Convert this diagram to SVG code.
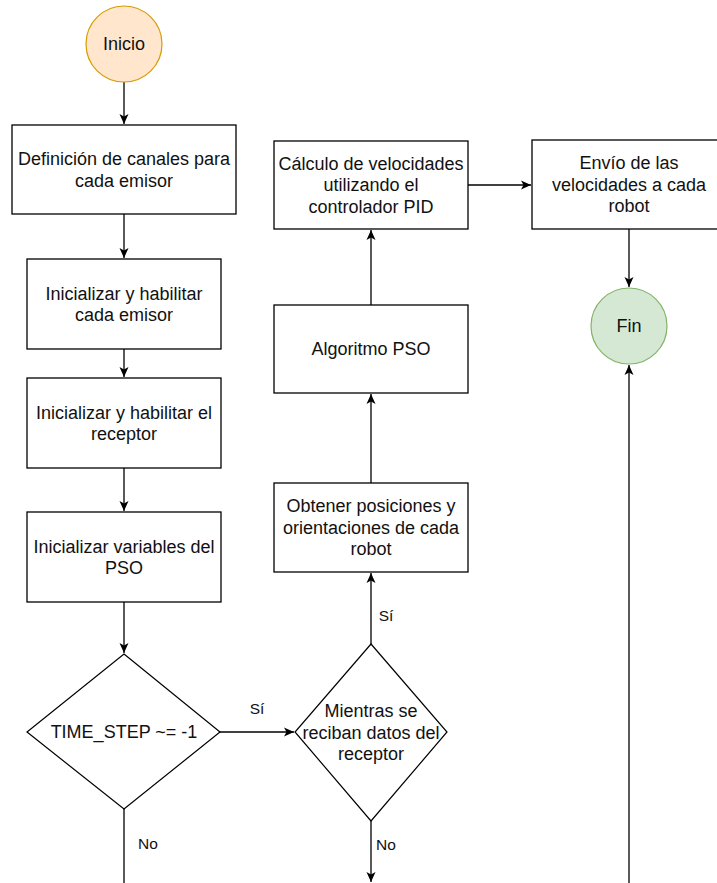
<svg xmlns="http://www.w3.org/2000/svg" width="717" height="883" viewBox="0 0 717 883">
<defs>
<style>
.box{fill:#ffffff;stroke:#000;stroke-width:1.3}
.dia{fill:#ffffff;stroke:#000;stroke-width:1.2}
.t{font-family:"Liberation Sans",Arial,Helvetica,sans-serif;font-size:18px;fill:#111;text-anchor:middle}
.lbl{font-family:"Liberation Sans",Arial,Helvetica,sans-serif;font-size:15.5px;fill:#111;text-anchor:middle}
.c{fill:none;stroke:#000;stroke-width:1.3}
</style>
<marker id="ah" markerUnits="userSpaceOnUse" markerWidth="12" markerHeight="12" refX="10" refY="5" orient="auto">
<path d="M0,0.5 L10,5 L0,9.5 L2.5,5 Z" fill="#000"/>
</marker>
</defs>
<rect width="717" height="883" fill="#ffffff"/>

<g id="connectors">
<line class="c" x1="124" y1="82" x2="124" y2="124" marker-end="url(#ah)"/>
<line class="c" x1="124" y1="214" x2="124" y2="258" marker-end="url(#ah)"/>
<line class="c" x1="124" y1="349" x2="124" y2="377" marker-end="url(#ah)"/>
<line class="c" x1="124" y1="468" x2="124" y2="511" marker-end="url(#ah)"/>
<line class="c" x1="124" y1="602" x2="124" y2="653" marker-end="url(#ah)"/>
<line class="c" x1="220" y1="732" x2="294" y2="732" marker-end="url(#ah)"/>
<line class="c" x1="124" y1="809" x2="124" y2="883"/>
<line class="c" x1="371" y1="821" x2="371" y2="882" marker-end="url(#ah)"/>
<line class="c" x1="371" y1="644" x2="371" y2="573" marker-end="url(#ah)"/>
<line class="c" x1="371" y1="483" x2="371" y2="394" marker-end="url(#ah)"/>
<line class="c" x1="371" y1="305" x2="371" y2="230" marker-end="url(#ah)"/>
<line class="c" x1="468" y1="185" x2="531" y2="185" marker-end="url(#ah)"/>
<line class="c" x1="629" y1="229" x2="629" y2="287" marker-end="url(#ah)"/>
<line class="c" x1="629" y1="883" x2="629" y2="365" marker-end="url(#ah)"/>
<text class="lbl" x="257" y="714">Sí</text>
<text class="lbl" x="148" y="849">No</text>
<text class="lbl" x="386" y="621">Sí</text>
<text class="lbl" x="386" y="850">No</text>
</g>

<g id="inicio">
<circle cx="124" cy="44" r="38" fill="#ffe6cc" stroke="#d79b00" stroke-width="1.2"/>
<text class="t" x="124" y="50">Inicio</text>
</g>

<g id="definicion">
<rect class="box" x="12" y="125" width="224" height="89"/>
<text class="t" x="124" y="165">Definición de canales para</text>
<text class="t" x="124" y="186.5">cada emisor</text>
</g>

<g id="init-emisor">
<rect class="box" x="27" y="259" width="194" height="90"/>
<text class="t" x="124" y="299.5">Inicializar y habilitar</text>
<text class="t" x="124" y="321">cada emisor</text>
</g>

<g id="init-receptor">
<rect class="box" x="27" y="378" width="194" height="90"/>
<text class="t" x="124" y="418.5">Inicializar y habilitar el</text>
<text class="t" x="124" y="440">receptor</text>
</g>

<g id="init-pso">
<rect class="box" x="27" y="512" width="194" height="90"/>
<text class="t" x="124" y="552.5">Inicializar variables del</text>
<text class="t" x="124" y="574">PSO</text>
</g>

<g id="time-step">
<polygon class="dia" points="124,654 220,732 124,809 27,732"/>
<text class="t" x="124" y="738">TIME_STEP ~= -1</text>
</g>

<g id="mientras">
<polygon class="dia" points="371,644 447,732 371,821 295,732"/>
<text class="t" x="371" y="717">Mientras se</text>
<text class="t" x="371" y="738.5">reciban datos del</text>
<text class="t" x="371" y="760">receptor</text>
</g>

<g id="obtener">
<rect class="box" x="274" y="483" width="194" height="89"/>
<text class="t" x="371" y="512">Obtener posiciones y</text>
<text class="t" x="371" y="533.5">orientaciones de cada</text>
<text class="t" x="371" y="555">robot</text>
</g>

<g id="pso">
<rect class="box" x="274" y="305" width="194" height="88"/>
<text class="t" x="371" y="355">Algoritmo PSO</text>
</g>

<g id="calculo">
<rect class="box" x="274" y="141" width="194" height="88"/>
<text class="t" x="371" y="169.5">Cálculo de velocidades</text>
<text class="t" x="371" y="191">utilizando el</text>
<text class="t" x="371" y="212.5">controlador PID</text>
</g>

<g id="envio">
<rect class="box" x="532" y="140" width="194" height="89"/>
<text class="t" x="629" y="169">Envío de las</text>
<text class="t" x="629" y="190.5">velocidades a cada</text>
<text class="t" x="629" y="212">robot</text>
</g>

<g id="fin">
<circle cx="629" cy="326" r="38" fill="#d5e8d4" stroke="#82b366" stroke-width="1.2"/>
<text class="t" x="629" y="332">Fin</text>
</g>
</svg>
